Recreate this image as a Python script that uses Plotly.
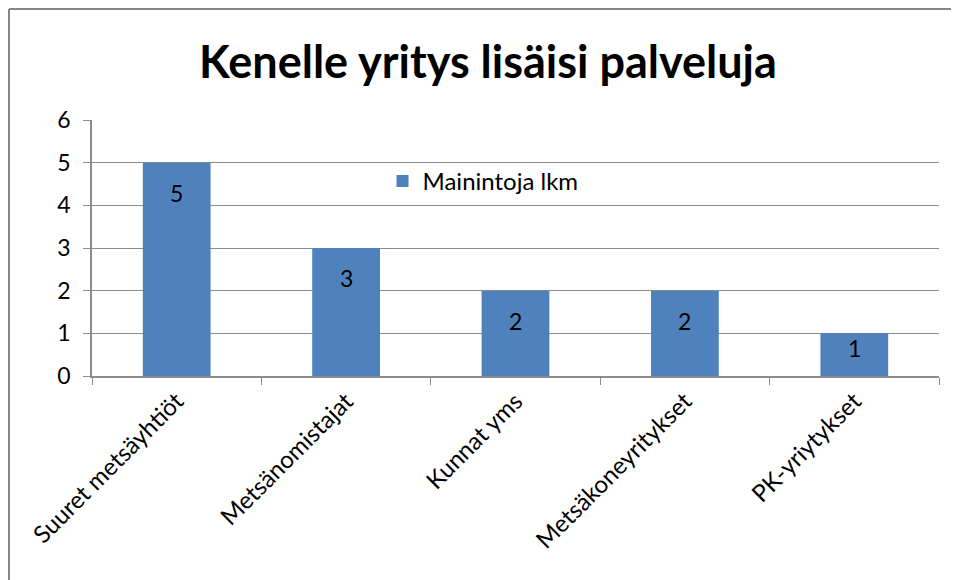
import plotly.graph_objects as go

categories = ["Suuret metsäyhtiöt", "Metsänomistajat", "Kunnat yms", "Metsäkoneyritykset", "PK-yriytykset"]
values = [5, 3, 2, 2, 1]
series_name = "Mainintoja lkm"
title_text = "Kenelle yritys lisäisi palveluja"

# page body has an 8px margin, so the figure is drawn 8px in from the window edge
W, H = 951, 572
ML, MR, MT, MB = 84, 20, 112, 204
YMAX = 6
FONT = "Lato"
BAR = "#4F81BD"
GRID = "#8C8C8C"
PW, PH = W - ML - MR, H - MT - MB

fig = go.Figure()
fig.add_trace(go.Bar(x=categories, y=values, name=series_name,
                     marker=dict(color=BAR, line=dict(width=0)),
                     showlegend=True))

px_per_unit = PH / YMAX
for c, v in zip(categories, values):
    shift = -min(30, v * px_per_unit * 0.35)
    fig.add_annotation(x=c, y=v, text=str(v), showarrow=False, yshift=shift,
                       font=dict(family=FONT, size=23, color="black"))

# chart border (top and left edges visible)
top = (H - 1 - MB) / PH
left = (1 - ML) / PW
fig.add_shape(type="line", xref="paper", yref="paper",
              x0=left, x1=(W + 5 - ML) / PW, y0=top, y1=top,
              line=dict(color="#868686", width=2))
fig.add_shape(type="line", xref="paper", yref="paper",
              x0=left, x1=left, y0=top, y1=-(MB + 5) / PH,
              line=dict(color="#868686", width=2))

fig.update_layout(
    width=W, height=H,
    margin=dict(l=ML, r=MR, t=MT, b=MB),
    paper_bgcolor="white", plot_bgcolor="white",
    bargap=0.6,
    title=dict(text=title_text, x=480 / W, xanchor="center", y=1 - 54 / H, yanchor="middle",
               font=dict(family=FONT, size=45, color="black", weight="bold")),
    legend=dict(x=0.343, y=0.76, xanchor="left", yanchor="middle",
                bgcolor="rgba(0,0,0,0)", font=dict(family=FONT, size=24, color="black"),
                itemwidth=30),
    font=dict(family=FONT, size=24, color="black"),
)
fig.update_yaxes(range=[0, YMAX], dtick=1, tick0=0, showgrid=True, gridcolor=GRID, gridwidth=1,
                 showline=True, linecolor=GRID, linewidth=1.5, ticks="outside", ticklen=7,
                 tickcolor=GRID, tickfont=dict(family=FONT, size=23, color="black"),
                 zeroline=False, ticklabelstandoff=8)
fig.update_xaxes(showline=True, linecolor=GRID, linewidth=1.5, ticks="outside", ticklen=7,
                 tickcolor=GRID, tickson="boundaries", tickangle=-45,
                 tickfont=dict(family=FONT, size=24, color="black"), showgrid=False)

fig.write_html("out.html")
